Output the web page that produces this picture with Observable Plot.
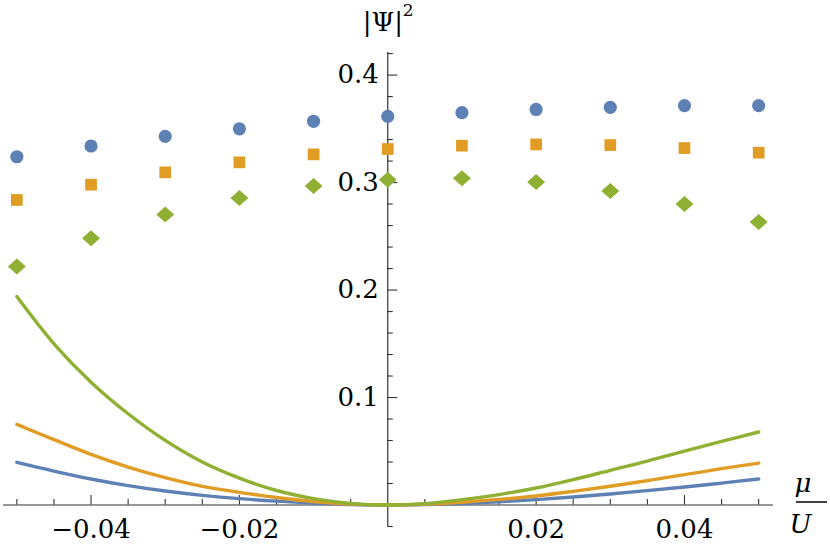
<!DOCTYPE html>
<html><head><meta charset="utf-8">
<script src="https://cdn.jsdelivr.net/npm/d3@7"></script>
<script src="https://cdn.jsdelivr.net/npm/@observablehq/plot@0.6"></script>
<style>body{margin:0;background:#fff}</style>
</head><body><div id="chart"></div>
<script>
// ---- data ----
const dotX = [-0.05,-0.04,-0.03,-0.02,-0.01,0,0.01,0.02,0.03,0.04,0.05];
const blueDots   = [0.324,0.334,0.343,0.350,0.357,0.3615,0.365,0.368,0.370,0.3715,0.3715];
const orangeDots = [0.2838,0.298,0.3095,0.3188,0.3262,0.3312,0.3343,0.3355,0.3349,0.3321,0.3278];
const greenDots  = [0.2218,0.2481,0.2702,0.2857,0.2968,0.3027,0.3039,0.3005,0.2922,0.2801,0.2634];

const curveX = [-0.05,-0.045,-0.04,-0.035,-0.03,-0.025,-0.02,-0.015,-0.01,-0.005,0,
                0.005,0.01,0.015,0.02,0.025,0.03,0.035,0.04,0.045,0.05];
const blueCurve   = [0.0397,0.0316,0.0242,0.0180,0.0130,0.0090,0.0059,0.0036,0.0018,0.0005,0,
                     0.0004,0.0014,0.0030,0.0050,0.0074,0.0102,0.0134,0.0167,0.0204,0.0242];
const orangeCurve = [0.0750,0.0608,0.0471,0.0353,0.0255,0.0174,0.0118,0.0070,0.0032,0.0008,0,
                     0.0008,0.0026,0.0052,0.0084,0.0127,0.0174,0.0227,0.0282,0.0338,0.0390];
const greenCurve  = [0.1939,0.1500,0.1143,0.0849,0.0601,0.0400,0.0250,0.0135,0.0060,0.0015,0,
                     0.0013,0.0050,0.0097,0.0158,0.0236,0.0323,0.0409,0.0502,0.0592,0.0679];

const xMajor = [-0.04,-0.02,0.02,0.04];
const xMajorLabels = ["\u22120.04","\u22120.02","0.02","0.04"];
const xMinor = [-0.05,-0.045,-0.035,-0.03,-0.025,-0.015,-0.01,-0.005,0.005,0.01,0.015,0.025,0.03,0.035,0.045,0.05];
const yMajor = [0.1,0.2,0.3,0.4];
const yMajorLabels = ["0.1","0.2","0.3","0.4"];
const yMinor = [-0.02,0.02,0.04,0.06,0.08,0.12,0.14,0.16,0.18,0.22,0.24,0.26,0.28,0.32,0.34,0.36,0.38,0.42];

const colors = {blue:"#5E81B5", orange:"#E19C24", green:"#8FB032"};
const xDomain = [-0.0518, 0.052];
const yDomain = [-0.02, 0.421];
const font = "DejaVu Serif";
const axisColor = "#333";

const dots = dotX.map((x,i)=>({x, b:blueDots[i], o:orangeDots[i], g:greenDots[i]}));
const curves = curveX.map((x,i)=>({x, b:blueCurve[i], o:orangeCurve[i], g:greenCurve[i]}));

const diamond = {draw(ctx, size){ const r = Math.sqrt(size/Math.PI);
  ctx.moveTo(0,-r); ctx.lineTo(r*1.12,0); ctx.lineTo(0,r); ctx.lineTo(-r*1.12,0); ctx.closePath(); }};

const chart = Plot.plot({
  width: 830, height: 549,
  marginLeft: 3, marginRight: 57, marginTop: 52, marginBottom: 23,
  x: {domain: xDomain, axis: null},
  y: {domain: yDomain, axis: null},
  style: {background: "#fff", fontFamily: font},
  marks: [
    // axes
    Plot.ruleY([0], {x1: xDomain[0], x2: xDomain[1], stroke: axisColor, strokeWidth: 1.2}),
    Plot.ruleX([0], {y1: yDomain[0], y2: yDomain[1], stroke: axisColor, strokeWidth: 1.2}),
    Plot.ruleX(xMinor, {x: d=>d, y1: 0, y2: 0, insetTop: -5.5, stroke: axisColor, strokeWidth: 1.1}),
    Plot.ruleX(xMajor, {x: d=>d, y1: 0, y2: 0, insetTop: -9.5, stroke: axisColor, strokeWidth: 1.1}),
    Plot.ruleY(yMinor, {y: d=>d, x1: 0, x2: 0, insetRight: -5.5, stroke: axisColor, strokeWidth: 1.1}),
    Plot.ruleY(yMajor, {y: d=>d, x1: 0, x2: 0, insetRight: -10, stroke: axisColor, strokeWidth: 1.1}),
    Plot.text(xMajor, {x: d=>d, y: 0, text: (d,i)=>xMajorLabels[i], dy: 25, fontSize: 26, fill: "#000"}),
    Plot.text(yMajor, {x: 0, y: d=>d, text: (d,i)=>yMajorLabels[i], dx: -9, textAnchor: "end", fontSize: 26, fill: "#000"}),
    // axis labels
    Plot.text(["|\u03A8|"], {x: 0, y: yDomain[1], dx: -25, dy: -30, textAnchor: "start", fontSize: 26, fill: "#000"}),
    Plot.text(["2"], {x: 0, y: yDomain[1], dx: 15, dy: -42, textAnchor: "start", fontSize: 17, fill: "#000"}),
    Plot.text(["\u03BC"], {y: 0, frameAnchor: "right", dx: 38, dy: -21, fontSize: 26, fontStyle: "italic", fill: "#000"}),
    Plot.ruleY([0], {x1: xDomain[1], x2: xDomain[1], insetLeft: 23, insetRight: -54, dy: -3, stroke: "#000", strokeWidth: 1.5}),
    Plot.text(["U"], {y: 0, frameAnchor: "right", dx: 38, dy: 20, fontSize: 26, fontStyle: "italic", fill: "#000"}),
    // curves
    Plot.line(curves, {x: "x", y: "b", stroke: colors.blue, strokeWidth: 3.4, curve: "catmull-rom"}),
    Plot.line(curves, {x: "x", y: "o", stroke: colors.orange, strokeWidth: 3.4, curve: "catmull-rom"}),
    Plot.line(curves, {x: "x", y: "g", stroke: colors.green, strokeWidth: 3.4, curve: "catmull-rom"}),
    // points
    Plot.dot(dots, {x: "x", y: "b", symbol: "circle", r: 6.6, fill: colors.blue, stroke: "none"}),
    Plot.dot(dots, {x: "x", y: "o", symbol: "square", r: 6.6, fill: colors.orange, stroke: "none"}),
    Plot.dot(dots, {x: "x", y: "g", symbol: diamond, r: 8, fill: colors.green, stroke: "none"})
  ]
});
document.getElementById("chart").appendChild(chart);
</script>
</body></html>
